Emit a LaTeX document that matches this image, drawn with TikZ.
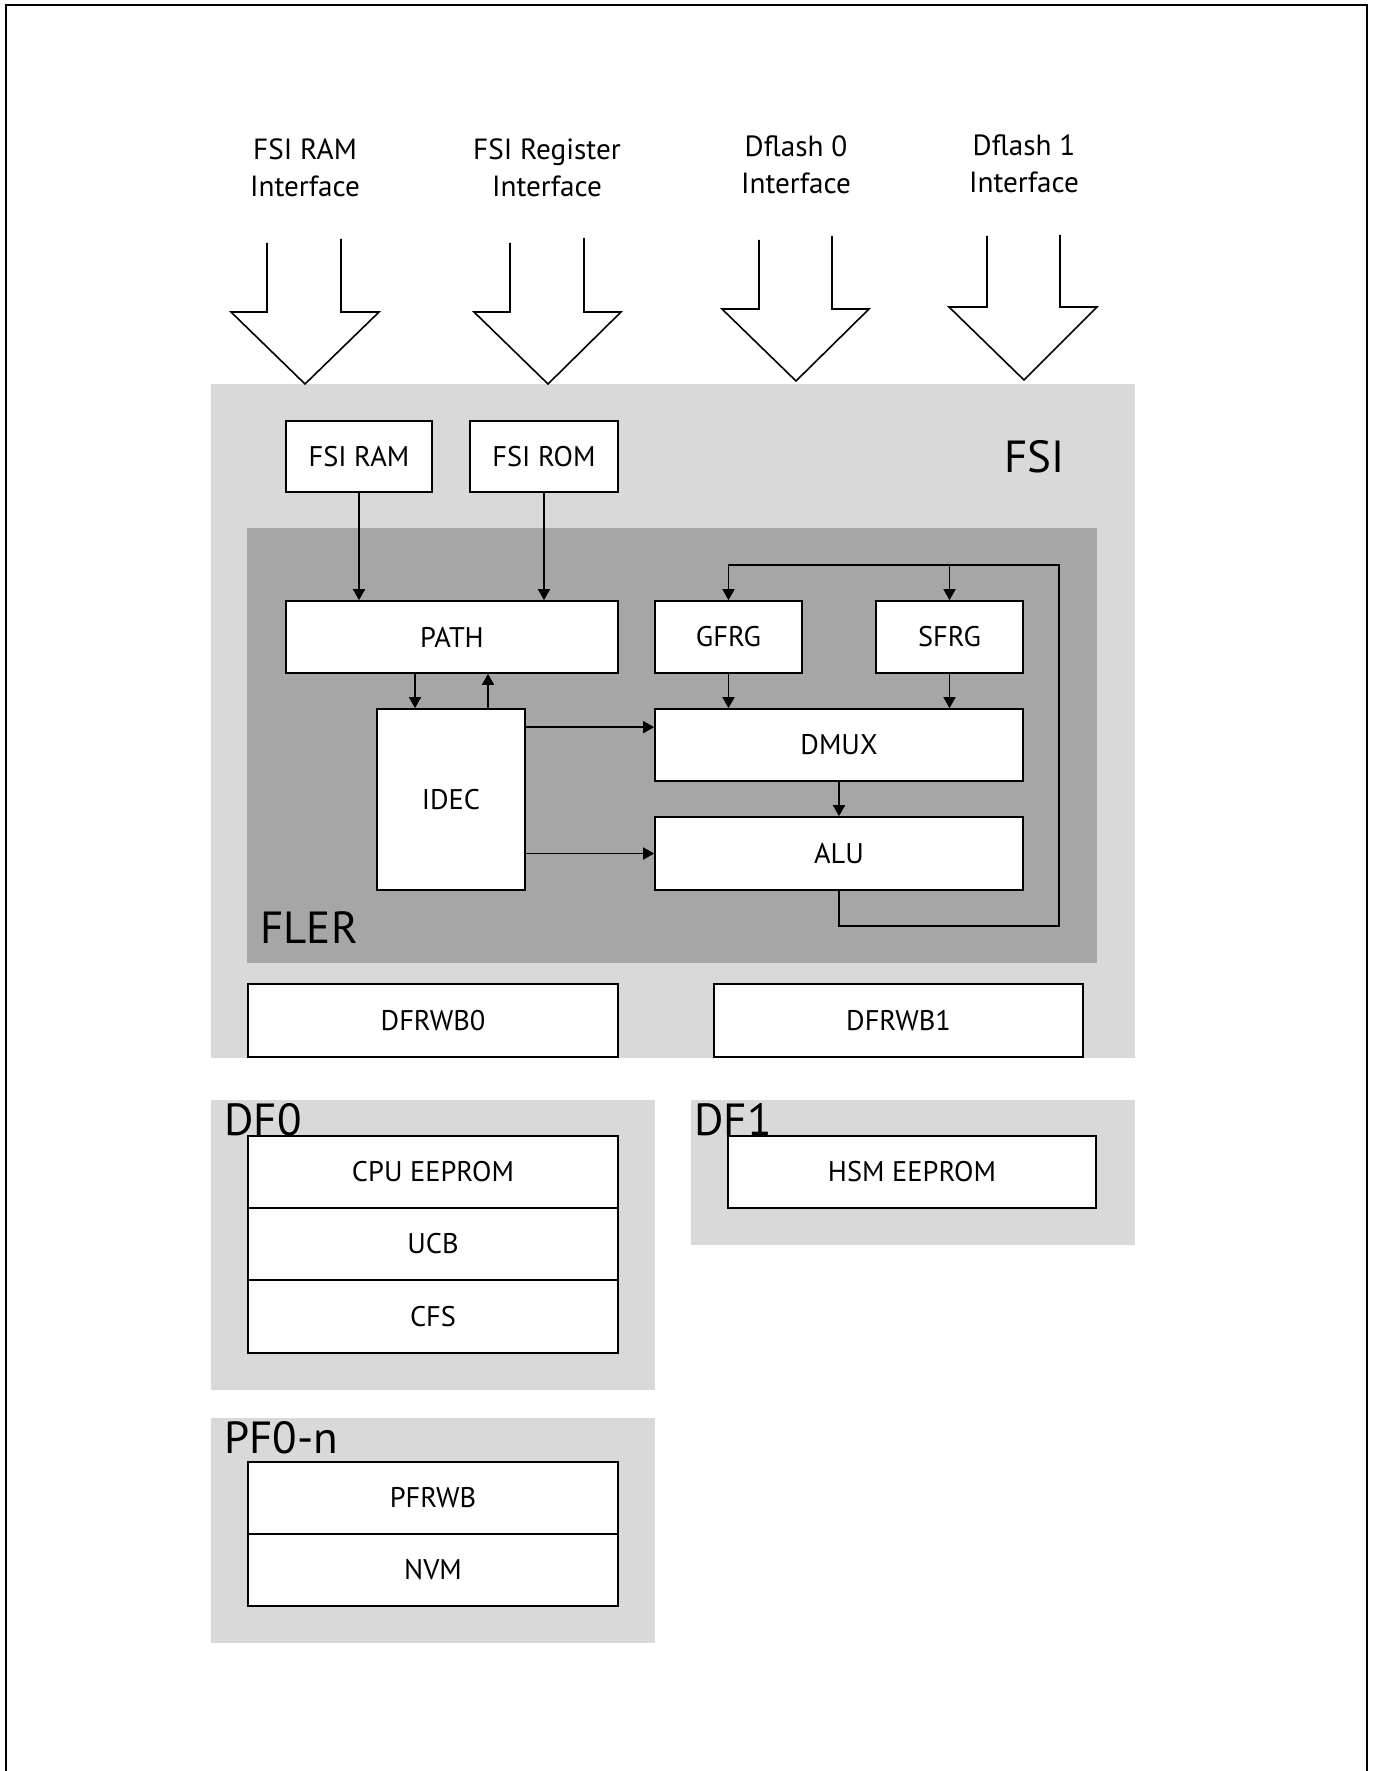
\documentclass[tikz,border=0pt]{standalone}
\usepackage{fontspec}
\setmainfont{PT Sans}
\usetikzlibrary{arrows.meta,fit}
\definecolor{fsigray}{HTML}{D9D9D9}
\definecolor{flergray}{HTML}{A6A6A6}
\begin{document}
\begin{tikzpicture}[x=0.5pt,y=-0.5pt,
  blk/.style={draw, fill=white, line width=0.85pt, inner sep=0pt, font=\fontsize{14.2}{16}\selectfont},
  area/.style={inner sep=0pt, draw=none},
  big/.style={font=\fontsize{22.5}{26}\selectfont, inner sep=0pt, anchor=base west},
  iface/.style={font=\fontsize{14.6}{18.5}\selectfont, align=center, inner sep=0pt, anchor=south},
  arr/.style={line width=0.85pt, -{Triangle[width=6pt,length=5.5pt]}},
  bigarrow/.style={draw, line width=0.8pt, line join=miter}
]
\useasboundingbox (0,0) rectangle (1374,1771);
% page frame, open at the bottom
\draw[line width=1pt] (6,1790) -- (6,5) -- (1367,5) -- (1367,1790);

% shaded regions
\node[area, fill=fsigray,  fit={(211,384) (1135,1058)}] (fsi) {};
\node[area, fill=flergray, fit={(247,528) (1097,963)}] (fler) {};
\node[area, fill=fsigray,  fit={(211,1100) (655,1390)}] (df0) {};
\node[area, fill=fsigray,  fit={(691,1100) (1135,1245)}] (df1) {};
\node[area, fill=fsigray,  fit={(211,1418) (655,1643)}] (pf) {};

% region titles
\node[big] (fsilbl) at (1004,472) {FSI};
\node[big] (flerlbl) at (260,943) {FLER};
\node[big] (df0lbl) at (224,1135) {DF0};
\node[big] (df1lbl) at (694,1135) {DF1};
\node[big] (pflbl) at (224,1453) {PF0-n};

% interface labels
\node[iface] (lram) at (305,197) {FSI RAM\\Interface};
\node[iface] (lreg) at (547,197) {FSI Register\\Interface};
\node[iface] (ldf0) at (796,194) {Dflash 0\\Interface};
\node[iface] (ldf1) at (1024,193) {Dflash 1\\Interface};

% wide interface arrows
\draw[bigarrow] (267,243) -- (267,312) -- (231,312) -- (305,384) -- (379,312) -- (341,312) -- (341,239);
\draw[bigarrow] (510,243) -- (510,312) -- (474,312) -- (548,384) -- (621,312) -- (584,312) -- (584,238);
\draw[bigarrow] (759,240) -- (759,309) -- (722,309) -- (796,381) -- (869,309) -- (832,309) -- (832,236);
\draw[bigarrow] (987,236) -- (987,307) -- (949,307) -- (1024,380) -- (1097,307) -- (1060,307) -- (1060,235);

% blocks
\node[blk, minimum width=73pt,   minimum height=35.5pt] (fsiram) at (359,456.5)  {FSI RAM};
\node[blk, minimum width=74pt,   minimum height=35.5pt] (fsirom) at (544,456.5)  {FSI ROM};
\node[blk, minimum width=166pt,  minimum height=36pt]   (path)   at (452,637)    {PATH};
\node[blk, minimum width=73.5pt, minimum height=36pt]   (gfrg)   at (728.5,637)  {GFRG};
\node[blk, minimum width=73.5pt, minimum height=36pt]   (sfrg)   at (949.5,637)  {SFRG};
\node[blk, minimum width=74pt,   minimum height=90.5pt] (idec)   at (451,799.5)  {IDEC};
\node[blk, minimum width=184pt,  minimum height=36pt]   (dmux)   at (839,745)    {DMUX};
\node[blk, minimum width=184pt,  minimum height=36.5pt] (alu)    at (839,853.5)  {ALU};
\node[blk, minimum width=185pt,  minimum height=36.5pt] (dfrwb0) at (433,1020.5) {DFRWB0};
\node[blk, minimum width=184.5pt,minimum height=36.5pt] (dfrwb1) at (898.5,1020.5) {DFRWB1};
\node[blk, minimum width=185pt,  minimum height=36pt]   (cpuee)  at (433,1172)   {CPU EEPROM};
\node[blk, minimum width=185pt,  minimum height=36pt]   (ucb)    at (433,1244)   {UCB};
\node[blk, minimum width=185pt,  minimum height=36.5pt] (cfs)    at (433,1316.5) {CFS};
\node[blk, minimum width=184pt,  minimum height=36pt]   (hsmee)  at (912,1172)   {HSM EEPROM};
\node[blk, minimum width=185pt,  minimum height=36pt]   (pfrwb)  at (433,1498)   {PFRWB};
\node[blk, minimum width=185pt,  minimum height=36pt]   (nvm)    at (433,1570)   {NVM};

% connections
\draw[arr] (fsiram.south) -- (fsiram.south |- path.north);
\draw[arr] (fsirom.south) -- (fsirom.south |- path.north);
\draw[arr] ([xshift=-18pt]idec.north |- path.south) -- ([xshift=-18pt]idec.north);
\draw[arr] ([xshift=18.5pt]idec.north) -- ([xshift=18.5pt]idec.north |- path.south);
\draw[arr] ([yshift=-9.5pt]idec.north east) -- ([yshift=-9.5pt]idec.north east -| dmux.west);
\draw[arr] (idec.east |- alu.west) -- (alu.west);
\draw[arr] (gfrg.south) -- (gfrg.south |- dmux.north);
\draw[arr] (sfrg.south) -- (sfrg.south |- dmux.north);
\draw[arr] (dmux.south) -- (alu.north);

% ALU result fed back to the flag registers
\coordinate (fbR) at (1059,926);
\coordinate (fbT) at (1059,565);
\draw[arr] (alu.south) |- (fbR) -- (fbT) -| (gfrg.north);
\draw[arr] (sfrg.north |- fbT) -- (sfrg.north);
\end{tikzpicture}
\end{document}
